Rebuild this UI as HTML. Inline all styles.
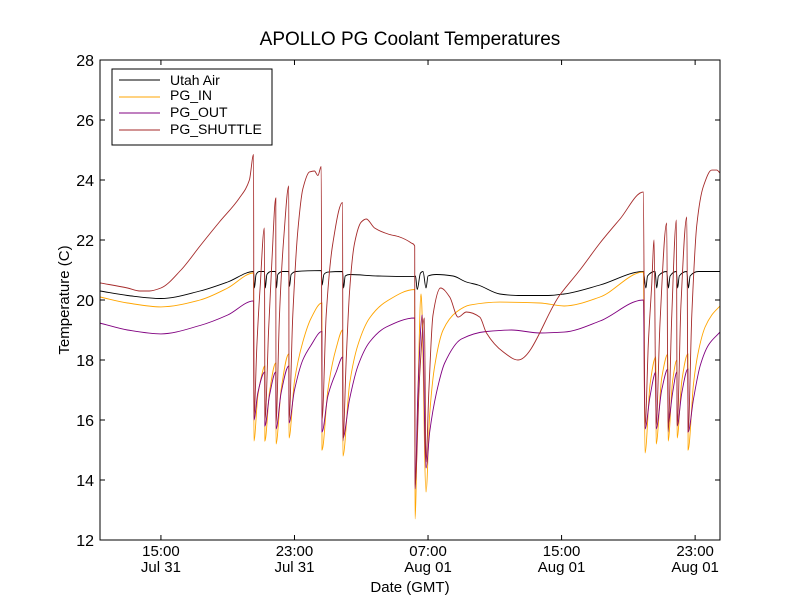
<!DOCTYPE html>
<html><head><meta charset="utf-8"><style>
body{margin:0;background:#fff;}
svg{font-family:"Liberation Sans","DejaVu Sans",sans-serif;}
</style></head><body>
<svg id="chart" width="800" height="600" xmlns="http://www.w3.org/2000/svg">
<rect x="0" y="0" width="800" height="600" fill="#fff"/>
<text x="410" y="45" font-size="19" text-anchor="middle">APOLLO PG Coolant Temperatures</text>
<text x="410" y="592" font-size="15" text-anchor="middle">Date (GMT)</text>
<text x="69" y="300" font-size="15" text-anchor="middle" transform="rotate(-90 69 300)">Temperature (C)</text>
<g id="plot"></g>
<g id="axes"></g>
<g>
<rect x="112" y="69" width="160" height="76" fill="#fff" stroke="#000" stroke-width="1"/>
<line x1="119" y1="80" x2="160" y2="80" stroke="#000"/><text x="170" y="85" font-size="14">Utah Air</text>
<line x1="119" y1="97" x2="160" y2="97" stroke="#ffa500"/><text x="170" y="100" font-size="14">PG_IN</text>
<line x1="119" y1="113" x2="160" y2="113" stroke="#800080"/><text x="170" y="117" font-size="14">PG_OUT</text>
<line x1="119" y1="130" x2="160" y2="130" stroke="#a52a2a"/><text x="170" y="134" font-size="14">PG_SHUTTLE</text>
</g>
</svg>
<script>
// time in hours since Jul 31 00:00 GMT
const xTickHours=[15,23,31,39,47];
const xTickTime=["15:00","23:00","07:00","15:00","23:00"];
const xTickDate=["Jul 31","Jul 31","Aug 01","Aug 01","Aug 01"];
const yTicks=[12,14,16,18,20,22,24,26,28];
const airT=[11.35,13,15,17.34,19,20.55,20.6,20.7,20.9,21.2,21.25,21.35,21.6,21.87,21.92,22.0,22.3,22.65,22.7,22.8,23.1,24.6,24.66,24.76,25.0,25.88,25.94,26.04,26.3,28,30.2,30.25,30.35,30.55,30.7,30.88,31.0,31.5,32.5,33.3,34.0,35.3,36.4,38.2,39.15,41.3,43.9,44.05,44.15,44.6,44.7,44.8,45.3,45.4,45.5,45.88,45.95,46.05,46.5,46.6,46.7,47.2,48.49];
const airV=[20.3,20.15,20.05,20.3,20.6,20.95,20.4,20.85,20.95,20.95,20.4,20.85,20.95,20.95,20.4,20.85,20.95,20.95,20.45,20.85,20.95,20.98,20.5,20.85,20.93,20.95,20.4,20.8,20.85,20.8,20.78,20.8,20.35,20.9,20.95,20.4,20.8,20.85,20.8,20.6,20.5,20.2,20.15,20.15,20.2,20.5,20.95,20.4,20.8,20.95,20.4,20.8,20.95,20.4,20.8,20.95,20.4,20.8,20.95,20.4,20.8,20.95,20.95];
const inT=[11.35,13,15,17.34,19,20.55,20.57,20.8,21.0,21.22,21.23,21.5,21.88,21.89,22.2,22.66,22.67,23.0,23.5,24.0,24.64,24.65,25.0,25.5,25.89,25.9,26.3,26.8,27.5,28.5,30.2,30.22,30.4,30.58,30.62,30.88,31.1,31.4,31.9,32.7,33.5,35.3,37.7,39.15,41.3,43.9,44.0,44.3,44.65,44.66,45.0,45.37,45.38,45.65,45.91,45.92,46.2,46.57,46.58,46.9,47.2,47.6,48.0,48.49];
const inV=[20.1,19.9,19.77,20.0,20.4,20.9,15.3,16.8,17.4,17.8,15.3,16.9,17.9,15.2,17.0,18.2,15.4,17.3,18.6,19.4,19.9,15.0,17.0,18.4,19.0,14.8,17.2,18.5,19.4,19.95,20.35,12.7,17,20.2,19.9,13.6,16.2,17.8,19.0,19.6,19.83,19.93,19.9,19.8,20.1,20.93,14.9,17.2,18.1,15.2,17.4,18.2,15.3,17.3,18.0,15.4,17.3,18.2,15.0,17.2,18.3,19.1,19.5,19.8];
const outT=[11.35,13,15,17.34,19,20.55,20.57,20.8,21.22,21.23,21.5,21.88,21.89,22.2,22.66,22.67,23.0,23.5,24.0,24.64,24.65,25.0,25.5,25.89,25.9,26.3,26.8,27.5,28.5,30.2,30.22,30.4,30.65,30.88,31.1,31.5,32.0,33.0,34.5,36.0,37.7,39.15,41.3,43.9,44.0,44.3,44.65,44.66,45.0,45.37,45.38,45.65,45.91,45.92,46.2,46.57,46.58,46.9,47.3,47.8,48.49];
const outV=[19.23,19.0,18.87,19.15,19.5,19.97,16.0,16.9,17.6,15.8,16.8,17.6,15.7,16.9,17.8,15.9,17.0,18.0,18.5,18.95,15.6,16.8,17.6,18.1,15.4,16.7,17.8,18.6,19.1,19.4,13.7,17.0,19.5,14.4,15.6,16.9,17.9,18.7,18.95,19.0,18.9,18.93,19.3,20.0,15.7,16.8,17.6,15.7,17.0,17.7,15.9,16.9,17.6,15.8,16.9,17.7,15.6,16.7,17.8,18.5,18.93];
const shT=[11.35,13.0,13.74,14.3,15,16.2,17.34,18.5,19.7,20.3,20.55,20.57,20.75,20.95,21.2,21.23,21.45,21.65,21.88,21.89,22.1,22.35,22.66,22.67,22.9,23.2,23.5,23.9,24.2,24.4,24.6,24.65,24.9,25.3,25.88,25.9,26.1,26.3,26.6,27.0,27.3,27.8,28.6,29.3,30.0,30.2,30.22,30.5,30.78,30.88,31.05,31.3,31.75,32.3,32.8,33.3,34.1,34.5,35.5,36.39,38.9,40.1,41.3,42.5,43.9,44.0,44.2,44.4,44.54,44.66,44.9,45.3,45.38,45.6,45.88,45.92,46.15,46.5,46.58,46.8,47.1,47.5,48.0,48.3,48.49];
const shV=[20.57,20.4,20.3,20.3,20.4,21.0,21.8,22.6,23.4,24.0,24.85,16.1,18.5,20.5,22.4,16.0,19,21.3,23.4,15.9,19.5,22,23.8,16.0,19.5,22.3,23.7,24.27,24.3,24.15,24.45,16.0,19.5,21.9,23.25,15.3,18,20.3,21.9,22.6,22.7,22.4,22.2,22.1,21.9,21.8,13.8,17.5,19.4,14.6,17,19.5,20.4,20.1,19.43,19.6,19.43,18.9,18.27,18.0,20.17,21.0,21.9,22.7,23.6,15.8,18.6,20.5,22.0,15.8,19.3,22.57,15.6,19.5,22.67,15.8,19.8,22.77,15.6,19.5,22.5,23.8,24.33,24.33,24.23];

const X0=100,X1=720,Y0=60,Y1=540,T0=11.35,T1=48.49,V0=12,V1=28;
const sx=t=>X0+(t-T0)/(T1-T0)*(X1-X0);
const sy=v=>Y1-(v-V0)/(V1-V0)*(Y1-Y0);
const NS="http://www.w3.org/2000/svg";
const plot=document.getElementById('plot'),axes=document.getElementById('axes');
function mk(tag,attrs,parent){const e=document.createElementNS(NS,tag);for(const k in attrs)e.setAttribute(k,attrs[k]);parent.appendChild(e);return e;}
const cp=mk('clipPath',{id:'clip'},plot);mk('rect',{x:X0,y:Y0,width:X1-X0,height:Y1-Y0},cp);
// monotone cubic path (Fritsch-Carlson)
function monoPath(xs,ys){
  const n=xs.length,d=[],m=[];
  for(let i=0;i<n-1;i++)d.push((ys[i+1]-ys[i])/(xs[i+1]-xs[i]));
  m[0]=d[0];m[n-1]=d[n-2];
  for(let i=1;i<n-1;i++){
    if(d[i-1]*d[i]<=0)m[i]=0;
    else{const h0=xs[i]-xs[i-1],h1=xs[i+1]-xs[i];m[i]=3*(h0+h1)/((2*h1+h0)/d[i-1]+(h1+2*h0)/d[i]);}
  }
  let p='M'+xs[0].toFixed(1)+' '+ys[0].toFixed(1);
  for(let i=0;i<n-1;i++){
    const h=(xs[i+1]-xs[i])/3;
    p+='C'+(xs[i]+h).toFixed(1)+' '+(ys[i]+m[i]*h).toFixed(1)+' '+(xs[i+1]-h).toFixed(1)+' '+(ys[i+1]-m[i+1]*h).toFixed(1)+' '+xs[i+1].toFixed(1)+' '+ys[i+1].toFixed(1);
  }
  return p;
}
function series(ts,vs,color,name){
  const d=monoPath(ts.map(sx),vs.map(sy));
  const p=mk('path',{d:d,fill:'none',stroke:color,'stroke-width':0.9,'clip-path':'url(#clip)'},plot);
  
  
}
series(airT,airV,'#000','series-utah-air');
series(inT,inV,'#ffa500','series-pg-in');
series(outT,outV,'#800080','series-pg-out');
series(shT,shV,'#a52a2a','series-pg-shuttle');
const frame=mk('rect',{x:X0,y:Y0,width:X1-X0,height:Y1-Y0,fill:'none',stroke:'#000','stroke-width':1},axes);


yTicks.forEach(v=>{const y=sy(v);
  mk('line',{x1:X0,y1:y,x2:X0+5,y2:y,stroke:'#000'},axes);
  mk('line',{x1:X1,y1:y,x2:X1-5,y2:y,stroke:'#000'},axes);
  const t=mk('text',{x:X0-6,y:y+6,'font-size':16,'text-anchor':'end'},axes);t.textContent=v;
  
  
});
xTickHours.forEach((h,i)=>{const x=sx(h);
  mk('line',{x1:x,y1:Y1,x2:x,y2:Y1-5,stroke:'#000'},axes);
  mk('line',{x1:x,y1:Y0,x2:x,y2:Y0+5,stroke:'#000'},axes);
  const t=mk('text',{x:x,y:556,'font-size':15,'text-anchor':'middle'},axes);t.textContent=xTickTime[i];
  
  
  const d=mk('text',{x:x,y:572,'font-size':15,'text-anchor':'middle'},axes);d.textContent=xTickDate[i];
  
  
});
</script>
</body></html>
